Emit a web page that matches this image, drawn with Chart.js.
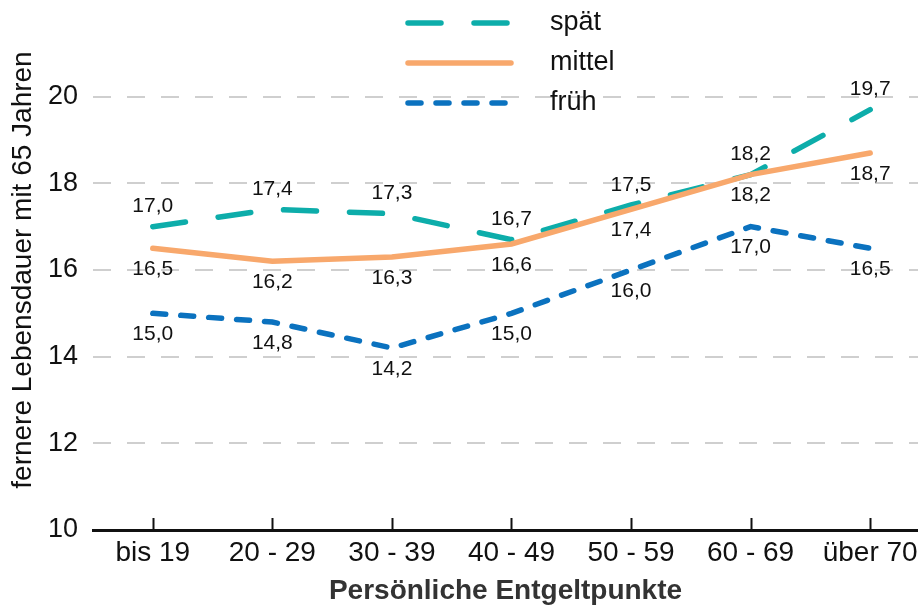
<!DOCTYPE html>
<html>
<head>
<meta charset="utf-8">
<style>
html, body { margin: 0; padding: 0; background: #fff; }
</style>
<script src="https://cdn.jsdelivr.net/npm/chart.js@4"></script>
</head>
<body>
<canvas id="chart" width="918" height="605"></canvas>
<script>
const categories = ['bis 19', '20 - 29', '30 - 39', '40 - 49', '50 - 59', '60 - 69', 'über 70']
const spaet = [17.0, 17.4, 17.3, 16.7, 17.5, 18.2, 19.7]
const mittel = [16.5, 16.2, 16.3, 16.6, 17.4, 18.2, 18.7]
const frueh = [15.0, 14.8, 14.2, 15.0, 16.0, 17.0, 16.5]
const yTicks = [10, 12, 14, 16, 18, 20]

const FONT = "'Liberation Sans', Arial, sans-serif"

function toPoints(values) {
    return values.map((v, i) => ({x: i, y: v}))
}

function fmt(v) {
    return v.toFixed(1).replace('.', ',')
}

// value labels above / below each point
const valueLabels = {
    id: 'valueLabels',
    afterDatasetsDraw(chart) {
        const ctx = chart.ctx
        ctx.save()
        ctx.font = '21px ' + FONT
        ctx.fillStyle = '#111'
        ctx.textAlign = 'center'
        ctx.textBaseline = 'middle'
        chart.data.datasets.forEach((ds, i) => {
            chart.getDatasetMeta(i).data.forEach((pt, j) => {
                ctx.fillText(fmt(ds.data[j].y), pt.x, pt.y + ds.labelShift)
            })
        })
        ctx.restore()
    }
}

// ticks pointing up from the x axis
const innerTicks = {
    id: 'innerTicks',
    afterDraw(chart) {
        const ctx = chart.ctx
        const x = chart.scales.x
        const bottom = chart.chartArea.bottom
        ctx.save()
        ctx.strokeStyle = '#111'
        ctx.lineWidth = 2
        x.ticks.forEach(t => {
            const px = Math.round(x.getPixelForValue(t.value)) + 0.5
            ctx.beginPath()
            ctx.moveTo(px, bottom)
            ctx.lineTo(px, bottom - 12)
            ctx.stroke()
        })
        ctx.restore()
    }
}

// stacked legend in the top middle
const stackLegend = {
    id: 'stackLegend',
    afterDraw(chart) {
        const ctx = chart.ctx
        const order = [0, 1, 2]
        ctx.save()
        ctx.font = '27px ' + FONT
        ctx.textBaseline = 'middle'
        ctx.fillStyle = '#111'
        order.forEach((i, row) => {
            const ds = chart.data.datasets[i]
            const y = 23 + row * 40
            ctx.strokeStyle = ds.borderColor
            ctx.lineWidth = ds.borderWidth
            ctx.lineCap = 'round'
            ctx.setLineDash(ds.borderDash)
            ctx.beginPath()
            ctx.moveTo(408, y)
            ctx.lineTo(511, y)
            ctx.stroke()
            ctx.setLineDash([])
            ctx.fillText(ds.label, 550, y)
        })
        ctx.restore()
    }
}

new Chart(document.getElementById('chart'), {
    type: 'line',
    data: {
        datasets: [
            {
                label: 'spät',
                data: toPoints(spaet),
                borderColor: '#0DADAA',
                borderWidth: 5.5,
                borderDash: [33, 33],
                borderCapStyle: 'round',
                labelShift: -20,
                order: 1
            },
            {
                label: 'mittel',
                data: toPoints(mittel),
                borderColor: '#F8A86C',
                borderWidth: 5.5,
                borderDash: [],
                borderCapStyle: 'round',
                labelShift: 21,
                order: 0
            },
            {
                label: 'früh',
                data: toPoints(frueh),
                borderColor: '#0B72BF',
                borderWidth: 5.5,
                borderDash: [13, 15],
                borderCapStyle: 'round',
                labelShift: 21,
                order: 2
            }
        ]
    },
    options: {
        responsive: false,
        animation: false,
        layout: {padding: {top: 10, right: 0, left: 0, bottom: 0}},
        elements: {point: {radius: 0}, line: {tension: 0}},
        plugins: {legend: {display: false}, tooltip: {enabled: false}},
        scales: {
            x: {
                type: 'linear',
                min: -0.5,
                max: 6.4,
                afterBuildTicks: s => { s.ticks = categories.map((c, i) => ({value: i})) },
                afterFit: s => {
                    s.height = 75
                    s.paddingLeft = 0
                    s.paddingRight = 0
                },
                ticks: {
                    callback: v => categories[v],
                    font: {family: FONT, size: 28},
                    color: '#111',
                    padding: 6,
                    maxRotation: 0,
                    autoSkip: false
                },
                grid: {display: false, drawTicks: false},
                border: {display: true, color: '#111', width: 3},
                title: {
                    display: true,
                    text: 'Persönliche Entgeltpunkte',
                    font: {family: FONT, size: 28, weight: 'bold'},
                    color: '#333',
                    padding: {top: 0, bottom: -3}
                }
            },
            y: {
                min: 10,
                max: 22,
                afterBuildTicks: s => { s.ticks = yTicks.map(v => ({value: v})) },
                afterFit: s => {
                    s.width = 93
                    s.paddingTop = 0
                    s.paddingBottom = 0
                },
                ticks: {
                    font: {family: FONT, size: 27},
                    color: '#111',
                    padding: 15
                },
                grid: {
                    drawTicks: false,
                    color: c => (c.tick && c.tick.value > 10) ? '#cfcfcf' : 'rgba(0,0,0,0)',
                    lineWidth: 2
                },
                border: {display: false, dash: [18, 16]},
                title: {
                    display: true,
                    text: 'fernere Lebensdauer mit 65 Jahren',
                    font: {family: FONT, size: 28},
                    color: '#111',
                    padding: {top: 6, bottom: 0}
                }
            }
        }
    },
    plugins: [valueLabels, innerTicks, stackLegend]
})
</script>
</body>
</html>
